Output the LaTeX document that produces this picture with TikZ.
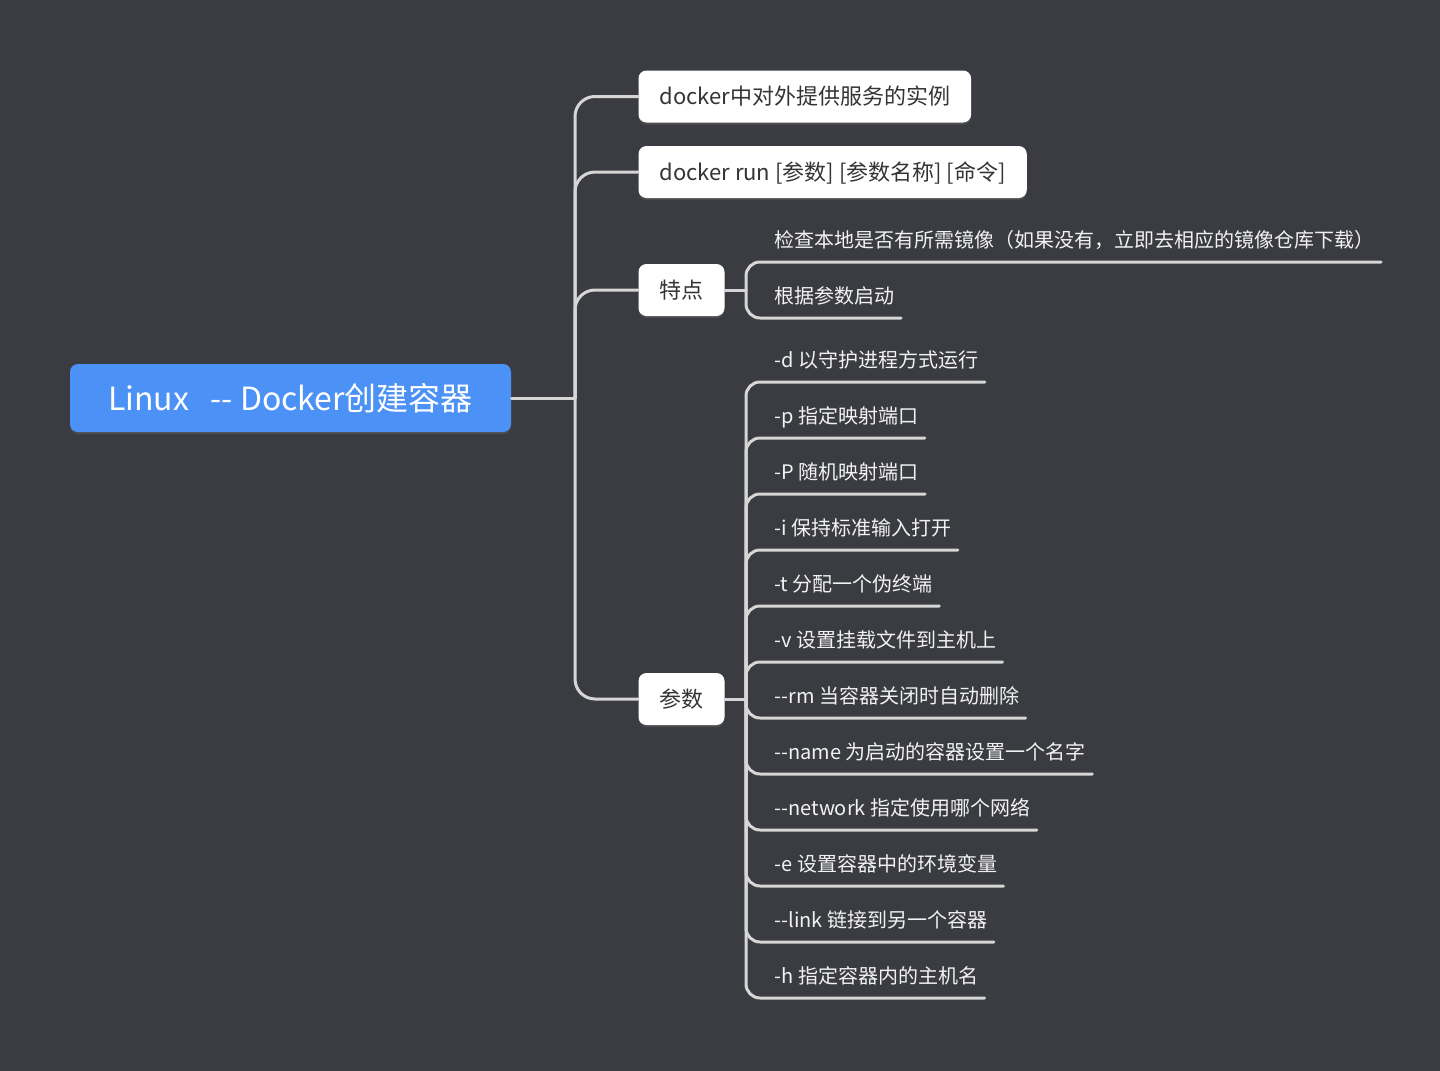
\documentclass[tikz,border=0pt]{standalone}
\usepackage{fontspec}
\setmainfont{Noto Sans CJK SC}
\usetikzlibrary{shadows}

\definecolor{bgcolor}{RGB}{58,60,65}
\definecolor{rootblue}{RGB}{76,146,246}
\definecolor{linegray}{RGB}{214,214,214}
\definecolor{boxtext}{RGB}{52,52,52}
\definecolor{leaftext}{RGB}{242,242,242}

\tikzset{every picture/.style={line width=0.75pt}}

\begin{document}
\begin{tikzpicture}[x=0.75pt,y=0.75pt,yscale=-1,xscale=1,
  rootbox/.style={fill=rootblue, rounded corners=6pt, minimum width=330.75pt, minimum height=51pt,
    text=white, font=\fontsize{24pt}{28pt}\selectfont, text height=18pt, text depth=0pt,
    drop shadow={opacity=0.25, shadow xshift=0pt, shadow yshift=-1.5pt}},
  topicbox/.style={fill=white, rounded corners=6pt, minimum height=39pt, inner xsep=15.75pt, anchor=west,
    text=boxtext, font=\fontsize{16.5pt}{20pt}\selectfont, text height=12.5pt, text depth=0pt,
    drop shadow={opacity=0.25, shadow xshift=0pt, shadow yshift=-1.5pt}},
  leafnode/.style={minimum height=33pt, inner xsep=4.5pt, inner ysep=0pt, anchor=south west,
    text=leaftext, font=\fontsize{15pt}{18pt}\selectfont, text height=11.4pt, text depth=0pt},
  branch/.style={draw=linegray, line width=2.25pt, line cap=round}]

%Background
\path[use as bounding box, fill=bgcolor] (0,0) rectangle (1440,1071);

% Root
\node (root) [rootbox] at (290.5,398) {Linux\ \ \ -{}- Docker创建容器};

% Topics
\node (inst) [topicbox] at (638,96.5) {docker中对外提供服务的实例};
\node (cmd) [topicbox] at (638,172) {docker run [参数] [参数名称] [命令]};
\node (tedian) [topicbox] at (638,290) {特点};
\node (canshu) [topicbox] at (638,699) {参数};

% Subtopics of 特点
\node (t1) [leafnode] at (768,262) {检查本地是否有所需镜像（如果没有，立即去相应的镜像仓库下载）};
\node (t2) [leafnode] at (768,318) {根据参数启动};

% Subtopics of 参数
\node (p1) [leafnode] at (768,382) {-d 以守护进程方式运行};
\node (p2) [leafnode] at (768,438) {-p 指定映射端口};
\node (p3) [leafnode] at (768,494) {-P 随机映射端口};
\node (p4) [leafnode] at (768,550) {-i 保持标准输入打开};
\node (p5) [leafnode] at (768,606) {-t 分配一个伪终端};
\node (p6) [leafnode] at (768,662) {-v 设置挂载文件到主机上};
\node (p7) [leafnode] at (768,718) {-{}-rm 当容器关闭时自动删除};
\node (p8) [leafnode] at (768,774) {-{}-name 为启动的容器设置一个名字};
\node (p9) [leafnode] at (768,830) {-{}-network 指定使用哪个网络};
\node (p10) [leafnode] at (768,886) {-e 设置容器中的环境变量};
\node (p11) [leafnode] at (768,942) {-{}-link 链接到另一个容器};
\node (p12) [leafnode] at (768,998) {-h 指定容器内的主机名};

% Junctions
\coordinate (rootj) at (575,398);
\coordinate (tedianj) at (746,290);
\coordinate (canshuj) at (746,699);

% Root branches
\draw[branch] (root.east) -- (rootj);
\draw[branch, rounded corners=15pt] (rootj) |- (inst.west);
\draw[branch, rounded corners=15pt] (rootj) |- (cmd.west);
\draw[branch, rounded corners=15pt] (rootj) |- (tedian.west);
\draw[branch, rounded corners=15pt] (rootj) |- (canshu.west);

% 特点 branches
\draw[branch] (tedian.east) -- (tedianj);
\draw[branch, rounded corners=10.5pt] (tedianj) |- (t1.south east);
\draw[branch, rounded corners=10.5pt] (tedianj) |- (t2.south east);

% 参数 branches
\draw[branch] (canshu.east) -- (canshuj);
\draw[branch, rounded corners=10.5pt] (canshuj) |- (p1.south east);
\draw[branch, rounded corners=10.5pt] (canshuj) |- (p2.south east);
\draw[branch, rounded corners=10.5pt] (canshuj) |- (p3.south east);
\draw[branch, rounded corners=10.5pt] (canshuj) |- (p4.south east);
\draw[branch, rounded corners=10.5pt] (canshuj) |- (p5.south east);
\draw[branch, rounded corners=10.5pt] (canshuj) |- (p6.south east);
\draw[branch, rounded corners=10.5pt] (canshuj) |- (p7.south east);
\draw[branch, rounded corners=10.5pt] (canshuj) |- (p8.south east);
\draw[branch, rounded corners=10.5pt] (canshuj) |- (p9.south east);
\draw[branch, rounded corners=10.5pt] (canshuj) |- (p10.south east);
\draw[branch, rounded corners=10.5pt] (canshuj) |- (p11.south east);
\draw[branch, rounded corners=10.5pt] (canshuj) |- (p12.south east);

\end{tikzpicture}
\end{document}
